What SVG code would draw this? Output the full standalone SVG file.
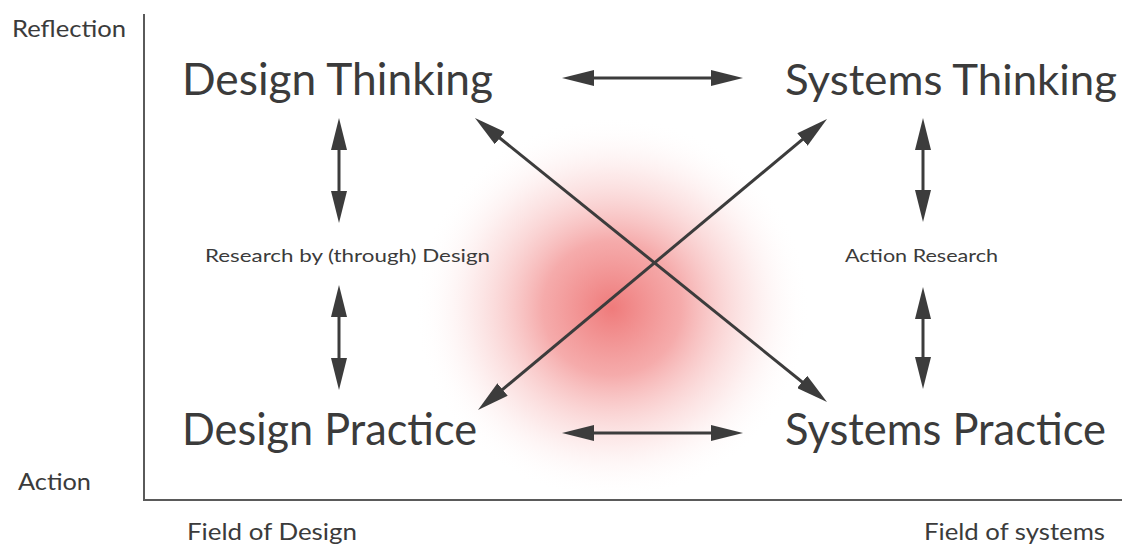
<svg xmlns="http://www.w3.org/2000/svg" width="1123" height="549" viewBox="0 0 1123 549">
<style>
.big{font-family:Lato,"Open Sans","Liberation Sans",sans-serif;font-size:45px;fill:#3b3b3b}
.lab{font-family:Lato,"Open Sans","Liberation Sans",sans-serif;font-size:23px;fill:#3b3b3b}
.mid{font-family:Lato,"Open Sans","Liberation Sans",sans-serif;font-size:18px;fill:#3b3b3b}
.conn{stroke:#3c3c3c;stroke-width:3;fill:none;marker-start:url(#ah);marker-end:url(#ah)}
.axis{stroke:#5a5a5a;stroke-width:2;fill:none}
</style>
<defs>
<marker id="ah" viewBox="0 0 32 16" refX="20" refY="8" markerWidth="32" markerHeight="16" markerUnits="userSpaceOnUse" orient="auto-start-reverse">
<path d="M0,0 L32,8 L0,16 Z" fill="#3c3c3c"/>
</marker>
<radialGradient id="glow" cx="0.5" cy="0.5" r="0.5">
<stop offset="0" stop-color="#ee7474" stop-opacity="0.95"/>
<stop offset="0.35" stop-color="#f28f8f" stop-opacity="0.75"/>
<stop offset="0.7" stop-color="#f8c4c4" stop-opacity="0.35"/>
<stop offset="1" stop-color="#ffffff" stop-opacity="0"/>
</radialGradient>
</defs>
<rect width="1123" height="549" fill="#ffffff"/>
<ellipse cx="612" cy="308" rx="198" ry="192" fill="url(#glow)"/>
<g id="axes">
<path class="axis" d="M144,14 L144,500 L1122,500"/>
</g>
<g id="connectors">
<line class="conn" x1="574" y1="78" x2="731" y2="78"/>
<line class="conn" x1="574" y1="433" x2="731" y2="433"/>
<line class="conn" x1="339" y1="130" x2="339" y2="211"/>
<line class="conn" x1="339" y1="297" x2="339" y2="378"/>
<line class="conn" x1="923" y1="130" x2="923" y2="210"/>
<line class="conn" x1="923" y1="299" x2="923" y2="377"/>
<line class="conn" x1="484.3" y1="125.5" x2="817.7" y2="394.5"/>
<line class="conn" x1="817.8" y1="126.7" x2="487.2" y2="402.3"/>
</g>
<g id="design-thinking"><text class="big" x="182" y="95" textLength="311" lengthAdjust="spacingAndGlyphs">Design Thinking</text></g>
<g id="systems-thinking"><text class="big" x="785" y="95" style="font-size:43px" textLength="332" lengthAdjust="spacingAndGlyphs">Systems Thinking</text></g>
<g id="design-practice"><text class="big" x="182" y="445" textLength="295" lengthAdjust="spacingAndGlyphs">Design Practice</text></g>
<g id="systems-practice"><text class="big" x="785" y="445" textLength="321" lengthAdjust="spacingAndGlyphs">Systems Practice</text></g>
<g id="research-design"><text class="mid" x="205" y="262" textLength="285" lengthAdjust="spacingAndGlyphs">Research by (through) Design</text></g>
<g id="action-research"><text class="mid" x="845" y="262" textLength="153" lengthAdjust="spacingAndGlyphs">Action Research</text></g>
<g id="axis-labels">
<text class="lab" x="12" y="37" textLength="114" lengthAdjust="spacingAndGlyphs">Reflection</text>
<text class="lab" x="18" y="490" textLength="73" lengthAdjust="spacingAndGlyphs">Action</text>
<text class="lab" x="187" y="540" textLength="170" lengthAdjust="spacingAndGlyphs">Field of Design</text>
<text class="lab" x="924" y="540" textLength="181" lengthAdjust="spacingAndGlyphs">Field of systems</text>
</g>
</svg>
